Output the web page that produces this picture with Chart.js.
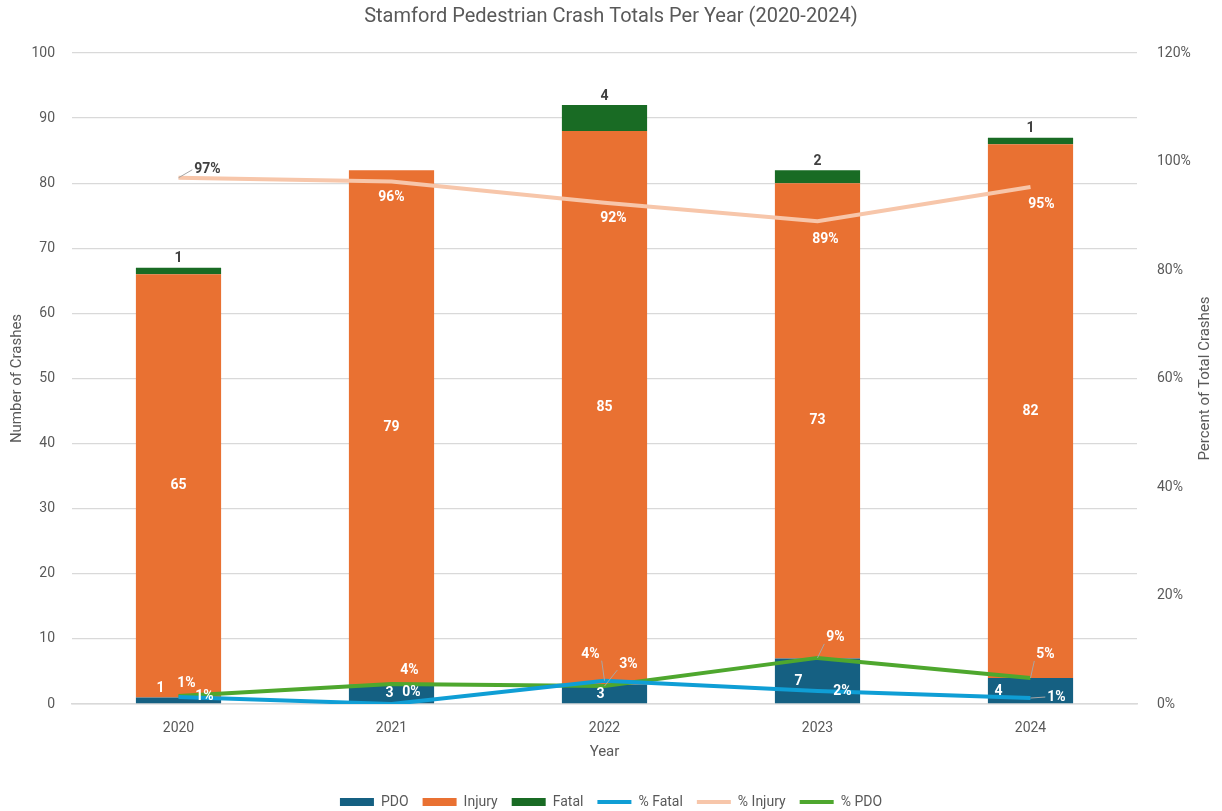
<!DOCTYPE html>
<html lang="en">
<head>
  <meta charset="UTF-8" />
  <title>Stamford Pedestrian Crash Totals Per Year (2020-2024)</title>
  <style>
    body { margin: 0; padding: 0; background: #fff; }
    #wrap { width: 1222px; height: 811px; position: relative; }
  </style>
  <script src="https://cdn.jsdelivr.net/npm/chart.js"></script>
</head>
<body>
  <div id="wrap"><canvas id="chart"></canvas></div>

  <script>
    // data
    const years = ['2020', '2021', '2022', '2023', '2024'];
    const pdo = [1, 3, 3, 7, 4];
    const injury = [65, 79, 85, 73, 82];
    const fatal = [1, 0, 4, 2, 1];
    const pctFatal = [1.3, 0, 4.3, 2.4, 1.1];
    const pctInjury = [97.0, 96.3, 92.4, 89.0, 95.3];
    const pctPDO = [1.49, 3.7, 3.3, 8.5, 4.8];

    const FONT = 'Roboto, "Open Sans", sans-serif';
    const GREY = '#595959';

    // label placement per dataset (pixel nudges, style only)
    const labelStyle = {
      PDO: { pos: 'center', color: '#fff', off: [[-18, -12], [-2, 0], [-4, 1], [-19, 1], [-32, 1]] },
      Injury: { pos: 'center', color: '#fff', off: [[0, 0], [0, 0], [0, 0], [0, 0], [0, 0]] },
      Fatal: { pos: 'top', color: '#404040', off: [[0, -9], [0, -9], [0, -9], [0, -9], [0, -9]] },
      '% Fatal': { pos: 'point', color: '#fff', off: [[26, 0], [20, -12], [-14, -26, true], [25, 1], [26, -1, true]] },
      '% Injury': { pos: 'point', color: '#fff', colors: ['#404040'], off: [[29, -8, true], [0, 16], [9, 16], [8, 18], [11, 18]] },
      '% PDO': { pos: 'point', color: '#fff', off: [[8, -12], [18, -13], [24, -22, true], [18, -20, true], [15, -23, true]] }
    };

    const labelPlugin = {
      id: 'valueLabels',
      afterDatasetsDraw(chart) {
        const ctx = chart.ctx;
        ctx.save();
        ctx.font = 'bold 14px ' + FONT;
        ctx.textAlign = 'center';
        ctx.textBaseline = 'middle';
        chart.data.datasets.forEach((ds, i) => {
          const st = labelStyle[ds.label];
          if (!st) return;
          const meta = chart.getDatasetMeta(i);
          meta.data.forEach((el, j) => {
            const v = ds.data[j];
            if (st.pos !== 'point' && !v) return;
            const text = st.pos === 'point' ? Math.round(v) + '%' : String(v);
            let x = el.x, y = el.y;
            if (st.pos === 'center') y = (el.y + el.base) / 2;
            const o = st.off[j];
            const lx = x + o[0], ly = y + o[1];
            if (o[2]) {
              const w = ctx.measureText(text).width / 2 + 2;
              ctx.strokeStyle = '#a6a6a6';
              ctx.lineWidth = 1;
              ctx.beginPath();
              ctx.moveTo(x, y);
              const ex = lx + (o[0] >= 0 ? -w : w);
              ctx.lineTo(ex, ly + (Math.abs(o[1]) > 12 ? (o[1] > 0 ? -6 : 6) : 0));
              ctx.stroke();
            }
            ctx.fillStyle = (st.colors && st.colors[j]) || st.color;
            ctx.fillText(text, lx, ly);
          });
        });
        ctx.restore();
      }
    };

    // right axis title reads bottom-to-top like the left one
    const rightTitle = {
      id: 'rightTitle',
      afterDraw(chart) {
        const { ctx, chartArea } = chart;
        ctx.save();
        ctx.translate(1205, (chartArea.top + chartArea.bottom) / 2);
        ctx.rotate(-Math.PI / 2);
        ctx.font = '15px ' + FONT;
        ctx.fillStyle = GREY;
        ctx.textAlign = 'center';
        ctx.textBaseline = 'middle';
        ctx.fillText('Percent of Total Crashes', 0, 0);
        ctx.restore();
      }
    };

    const ctx = document.getElementById('chart').getContext('2d');
    new Chart(ctx, {
      type: 'bar',
      data: {
        labels: years,
        datasets: [
          { label: 'PDO', data: pdo, backgroundColor: '#156082', stack: 's', yAxisID: 'y', order: 2 },
          { label: 'Injury', data: injury, backgroundColor: '#E97132', stack: 's', yAxisID: 'y', order: 2 },
          { label: 'Fatal', data: fatal, backgroundColor: '#196B24', stack: 's', yAxisID: 'y', order: 2 },
          { type: 'line', label: '% Fatal', data: pctFatal, borderColor: '#0F9ED5', backgroundColor: '#0F9ED5',
            borderWidth: 4, pointRadius: 0, tension: 0, yAxisID: 'y1', order: 1 },
          { type: 'line', label: '% Injury', data: pctInjury, borderColor: '#F7C6AA', backgroundColor: '#F7C6AA',
            borderWidth: 4, pointRadius: 0, tension: 0, yAxisID: 'y1', order: 1 },
          { type: 'line', label: '% PDO', data: pctPDO, borderColor: '#4EA72E', backgroundColor: '#4EA72E',
            borderWidth: 4, pointRadius: 0, tension: 0, yAxisID: 'y1', order: 1 }
        ]
      },
      options: {
        responsive: true,
        maintainAspectRatio: false,
        animation: false,
        layout: { padding: { top: 3, bottom: 0, left: 0, right: 0 } },
        datasets: { bar: { barPercentage: 0.4, categoryPercentage: 1 } },
        plugins: {
          tooltip: { enabled: false },
          title: {
            display: true,
            text: 'Stamford Pedestrian Crash Totals Per Year (2020-2024)',
            color: GREY,
            font: { family: FONT, size: 20, weight: 'normal' },
            padding: { top: 2, bottom: 24 }
          },
          legend: {
            position: 'bottom',
            maxHeight: 30,
            labels: {
              color: GREY,
              font: { family: FONT, size: 14 },
              usePointStyle: true,
              pointStyleWidth: 34,
              boxHeight: 8,
              padding: 14,
              generateLabels(chart) {
                return chart.data.datasets.map((ds, i) => ({
                  text: ds.label,
                  datasetIndex: i,
                  fillStyle: ds.backgroundColor,
                  strokeStyle: ds.borderColor || ds.backgroundColor,
                  lineWidth: ds.type === 'line' ? 4 : 0,
                  pointStyle: ds.type === 'line' ? 'line' : 'rect',
                  fontColor: GREY,
                  hidden: false
                }));
              }
            }
          }
        },
        scales: {
          x: {
            grid: { display: false },
            border: { color: '#d9d9d9', width: 1.5 },
            ticks: { color: GREY, font: { family: FONT, size: 14 }, padding: 8 },
            title: { display: true, text: 'Year', color: GREY, font: { family: FONT, size: 15 }, padding: { top: 4, bottom: 20 } },
            afterFit(scale) { scale.height = 77; }
          },
          y: {
            stacked: true,
            min: 0, max: 100,
            ticks: { stepSize: 10, color: GREY, font: { family: FONT, size: 14 }, padding: 17 },
            grid: { color: '#d9d9d9', lineWidth: 1.3, drawTicks: false },
            border: { display: false },
            title: { display: true, text: 'Number of Crashes', color: GREY, font: { family: FONT, size: 15 }, padding: { top: 8, bottom: 4 } },
            afterFit(scale) { scale.width = 72; }
          },
          y1: {
            position: 'right',
            min: 0, max: 120,
            ticks: { stepSize: 20, color: GREY, font: { family: FONT, size: 14 }, padding: 20, callback: v => v + '%' },
            grid: { display: false, drawTicks: false },
            border: { display: false },
            title: { display: false },
            afterFit(scale) { scale.width = 85; }
          }
        }
      },
      plugins: [labelPlugin, rightTitle]
    });
  </script>
</body>
</html>
